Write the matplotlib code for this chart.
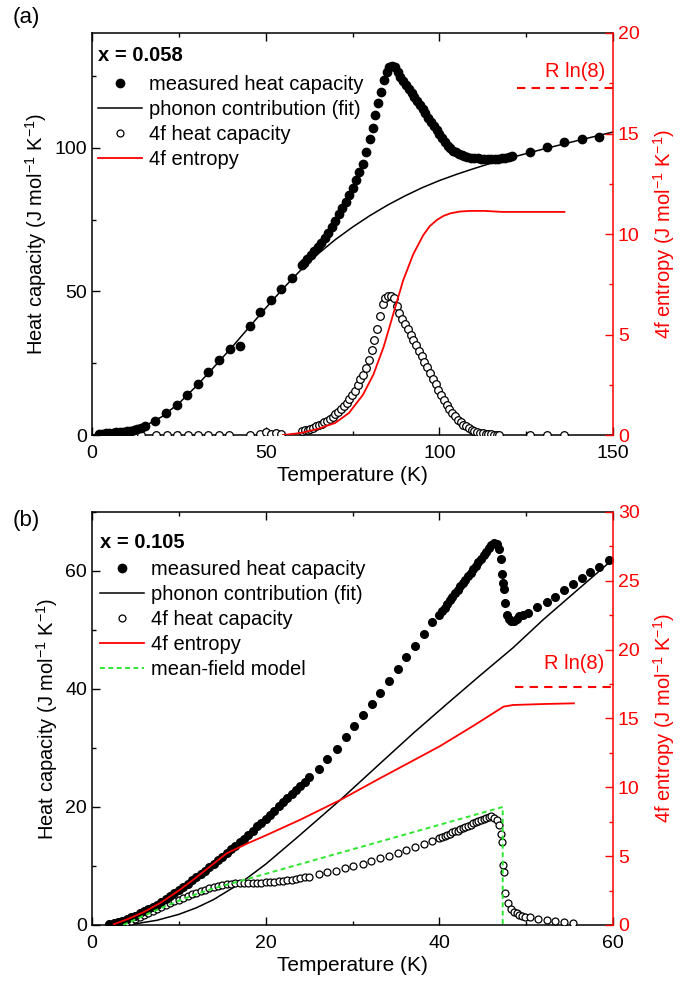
import numpy as np
import matplotlib
matplotlib.use("Agg")
import matplotlib.pyplot as plt
from matplotlib.ticker import MultipleLocator
from matplotlib.lines import Line2D

plt.rcParams['font.family'] = ['Liberation Sans', 'DejaVu Sans']
plt.rcParams['mathtext.fontset'] = 'custom'
plt.rcParams['mathtext.rm'] = 'Liberation Sans'
plt.rcParams['font.size'] = 14

R_LN8 = 8.314 * np.log(8)

# ---------------- panel (a): x = 0.058 ----------------
a_meas_T = [2, 3, 4, 5, 6, 7, 8, 9, 10, 11, 12, 13, 14, 15.3,
            18.2, 21.4, 24.4, 27.4, 30.5, 33.5, 36.6, 39.6, 42.5, 45.6, 48.5, 51.5, 54.5, 57.5, 60.5,
            61.0, 62.0, 63.0, 64.0, 65.0, 66.0, 67.0, 68.0, 69.0, 70.0, 71.0, 72.0, 73.0, 74.0,
            75.0, 76.0, 77.0, 78.0, 79.0, 80.0, 80.8, 81.6, 82.4, 83.2, 84.0, 84.8, 85.6, 86.4,
            87.2, 88.0, 88.8, 89.6, 90.4, 91.2, 92.0, 92.8, 93.6, 94.4, 95.2, 96.0, 96.8, 97.6,
            98.4, 99.2, 100.0, 100.8, 101.6, 102.4, 103.2, 104.0, 104.8, 105.6, 106.4, 107.2,
            108.0, 109.0, 110.0, 111.0, 112.0, 113.0, 114.0, 115.0, 116.0, 117.0, 118.0, 119.0,
            120.0, 121.0, 126.0, 131.0, 136.0, 141.0, 146.0]
a_meas_C = [0.4, 0.5, 0.6, 0.7, 0.8, 0.9, 1.0, 1.1, 1.3, 1.5, 1.8, 2.1, 2.5, 3.0,
            5.0, 7.6, 10.5, 14.0, 17.8, 21.8, 26.0, 30.1, 30.9, 38.0, 43.0, 47.0, 50.7, 54.8, 59.3,
            60.0, 61.3, 62.6, 64.0, 65.4, 67.0, 68.7, 70.5, 72.5, 74.7, 76.8, 79.0, 81.3, 83.6,
            86.0, 88.8, 91.5, 94.5, 98.5, 103.0, 107.0, 111.5, 115.5, 119.5, 123.5, 126.5, 128.2, 128.6,
            128.0, 126.5, 124.8, 123.3, 122.0, 120.6, 119.0, 117.6, 116.3, 114.8, 113.4, 112.0, 110.5, 109.0,
            107.6, 106.3, 104.8, 103.3, 102.0, 100.8, 99.8, 99.0, 98.4, 97.9, 97.5, 97.1,
            96.8, 96.6, 96.4, 96.3, 96.2, 96.1, 96.1, 96.1, 96.2, 96.2, 96.3, 96.5,
            96.8, 97.2, 98.5, 100.2, 102.0, 103.0, 103.8]

a_phon_T = [0, 5, 10, 15, 20, 25, 30, 35, 40, 45, 50, 55, 60, 65, 70, 75, 80, 85, 90, 95,
            100, 105, 110, 115, 120, 130, 140, 150]
a_phon_C = [0, 0.2, 1.0, 3.0, 6.3, 11.0, 17.0, 23.5, 30.2, 37.2, 44.2, 51.0, 57.3, 63.0, 68.0,
            72.4, 76.4, 80.0, 83.2, 86.1, 88.6, 90.8, 92.8, 94.7, 96.4, 99.6, 102.6, 105.5]

a_4f_T = [2, 3, 4, 5, 6, 7, 8, 9, 10, 11, 12, 13, 14,
          18.5, 21.5, 24.5, 27.5, 30.5, 33.5, 36.5, 39.5, 45.5, 48.5, 50.0, 51.5, 53.0, 54.5,
          60.5, 61.3, 62.1, 62.9, 63.7, 64.5, 65.3, 66.1, 66.9, 67.7, 68.5, 69.3, 70.1, 70.9,
          71.7, 72.5, 73.3, 74.1, 74.9, 75.7, 76.5, 77.3, 78.1, 78.9, 79.7, 80.5, 81.3, 82.1,
          82.9, 83.7, 84.5, 85.3, 86.1, 86.9, 87.7, 88.5, 89.3, 90.1, 90.9, 91.7, 92.5, 93.3,
          94.1, 94.9, 95.7, 96.5, 97.3, 98.1, 98.9, 99.7, 100.5, 101.3, 102.1, 102.9, 103.7,
          104.5, 105.3, 106.1, 106.9, 107.7, 108.5, 109.3, 110.1, 110.9, 111.7, 112.5, 113.3,
          114.1, 114.9, 115.7, 116.5, 117.3, 126.0, 131.0, 136.0]
a_4f_C = [0.1, 0.1, 0.1, 0.1, 0.1, 0.1, 0.1, 0.1, 0.1, 0.1, 0.1, 0.1, 0.1,
          0.1, 0.1, 0.1, 0.1, 0.1, 0.1, 0.1, 0.1, 0.1, 0.5, 0.9, 0.4, 0.6, 0.3,
          1.3, 1.6, 1.9, 2.2, 2.6, 3.0, 3.4, 3.9, 4.4, 5.0, 5.7, 6.4, 7.2, 8.1,
          9.0, 10.0, 11.3, 12.6, 14.0, 15.5, 17.5, 19.5, 21.0, 23.5, 26.0, 29.5, 33.0, 37.0,
          41.5, 45.5, 47.7, 48.3, 48.4, 47.6, 45.0, 42.6, 40.5, 38.7, 36.8, 34.9, 33.1, 31.3,
          29.4, 27.5, 25.6, 23.6, 21.6, 19.6, 17.6, 15.8, 14.0, 12.2, 10.6, 9.1, 7.8,
          6.6, 5.4, 4.4, 3.6, 3.0, 2.4, 1.9, 1.5, 1.1, 0.8, 0.6, 0.4,
          0.3, 0.2, 0.1, 0.0, 0.0, 0.1, 0.1, 0.1]

a_S_T = [55, 60, 65, 70, 74, 78, 81, 84, 86.7, 89.6, 92.5, 95.4, 97.3, 99.3, 101.2, 103.2,
         106, 109, 113, 118, 125, 136]
a_S = [0, 0.1, 0.3, 0.6, 1.1, 2.0, 3.0, 4.4, 6.0, 7.7, 9.0, 9.95, 10.4, 10.7, 10.9, 11.03,
       11.12, 11.15, 11.15, 11.1, 11.1, 11.1]

# ---------------- panel (b): x = 0.105 ----------------
b_meas_T = [2.0, 2.5, 3.0, 3.5, 4.0, 4.5, 5.0, 5.5, 6.0, 6.5, 7.0, 7.5, 8.0, 8.5, 9.0, 9.5,
            10.0, 10.5, 11.0, 11.5, 12.0, 12.5, 13.0, 13.5, 14.0, 14.5, 15.0, 15.5, 16.0, 16.5,
            17.0, 17.5, 18.0, 18.5, 19.0, 19.5, 20.0, 20.5, 21.0, 21.5, 22.0, 22.5, 23.0, 23.5,
            24.0, 24.5, 25.0,
            26.1, 27.1, 28.2, 29.2, 30.2, 31.2, 32.2, 33.2, 34.2, 35.2, 36.2, 37.2, 38.2, 39.2,
            40.0, 40.3, 40.6, 40.9, 41.2, 41.5, 41.8, 42.1, 42.4, 42.7, 43.0, 43.3, 43.6, 43.9,
            44.2, 44.5, 44.8, 45.1, 45.4, 45.7, 46.0, 46.3, 46.6, 46.9, 47.1, 47.25, 47.3, 47.4,
            47.6, 47.8, 48.0, 48.3, 48.6, 48.9, 49.2, 49.6, 50.2,
            51.3, 52.4, 53.3, 54.3, 55.4, 56.4, 57.4, 58.4, 59.5]
b_meas_C = [0.2, 0.35, 0.5, 0.75, 1.0, 1.3, 1.6, 1.95, 2.3, 2.65, 3.0, 3.45, 3.9, 4.4, 4.9, 5.4,
            5.9, 6.45, 7.0, 7.55, 8.1, 8.65, 9.2, 9.8, 10.4, 11.0, 11.6, 12.2, 12.8, 13.4,
            14.0, 14.65, 15.3, 16.0, 16.7, 17.35, 18.0, 18.7, 19.4, 20.1, 20.8, 21.5, 22.2, 22.9,
            23.6, 24.3, 25.0,
            26.4, 28.1, 29.9, 31.8, 33.7, 35.6, 37.5, 39.4, 41.4, 43.4, 45.5, 47.3, 49.3, 51.3,
            52.6, 53.2, 53.8, 54.4, 55.0, 55.6, 56.2, 56.8, 57.4, 57.9, 58.5, 59.1, 59.7, 60.3,
            60.9, 61.5, 62.1, 62.7, 63.3, 63.9, 64.4, 64.7, 64.6, 63.8, 62.0, 59.5, 58.0, 57.0,
            54.5, 52.5, 51.8, 51.5, 51.6, 51.9, 52.3, 52.6, 52.9,
            53.9, 54.8, 55.6, 56.8, 57.8, 58.8, 59.8, 60.7, 61.8]

b_phon_T = [3, 5, 7.5, 10, 12, 14, 17, 20, 23.6, 28.6, 33.2, 37, 40.9, 44.7, 48.5, 52, 56, 60]
b_phon_C = [0, 0.2, 0.8, 1.8, 2.9, 4.3, 7.0, 10.3, 14.8, 21.2, 27.4, 32.5, 37.5, 42.3, 47.0,
            51.8, 56.9, 62.0]

b_4f_T = [2.0, 2.5, 3.0, 3.5, 4.0, 4.5, 5.0, 5.5, 6.0, 6.5, 7.0, 7.5, 8.0, 8.5, 9.0, 9.5,
          10.0, 10.5, 11.0, 11.5, 12.0, 12.5, 13.0, 13.5, 14.0, 14.5, 15.0, 15.5, 16.0, 16.5,
          17.0, 17.5, 18.0, 18.5, 19.0, 19.5, 20.0, 20.5, 21.0, 21.5, 22.0, 22.5, 23.0, 23.5,
          24.0, 24.5, 25.0,
          26.1, 27.1, 28.1, 29.1, 30.1, 31.2, 32.1, 33.2, 34.2, 35.2, 36.2, 37.2, 38.2, 39.2,
          40.0, 40.3, 40.6, 40.9, 41.2, 41.5, 41.8, 42.1, 42.4, 42.7, 43.0, 43.3, 43.6, 43.9,
          44.2, 44.5, 44.8, 45.1, 45.4, 45.7, 46.0, 46.3, 46.6, 46.9, 47.1, 47.2, 47.3, 47.4,
          47.6, 47.9, 48.3, 48.6, 48.9, 49.2, 49.5, 49.9, 50.4, 51.4, 52.4, 53.3, 54.4, 55.4]
b_4f_C = [0.05, 0.1, 0.2, 0.3, 0.5, 0.7, 1.0, 1.3, 1.7, 2.0, 2.4, 2.7, 3.1, 3.4, 3.7, 4.0,
          4.3, 4.6, 4.9, 5.2, 5.5, 5.75, 6.0, 6.2, 6.4, 6.6, 6.75, 6.9, 7.0, 7.05,
          7.1, 7.1, 7.1, 7.1, 7.1, 7.15, 7.2, 7.25, 7.3, 7.4, 7.5, 7.6, 7.7, 7.8,
          7.9, 8.05, 8.2,
          8.6, 8.9, 9.2, 9.6, 10.0, 10.4, 10.9, 11.3, 11.7, 12.2, 12.7, 13.2, 13.7, 14.3,
          14.7, 14.9, 15.1, 15.3, 15.5, 15.7, 15.9, 16.0, 16.2, 16.4, 16.6, 16.8, 17.0, 17.2,
          17.4, 17.6, 17.8, 18.0, 18.2, 18.35, 18.4, 18.2, 17.8, 17.0, 15.5, 14.1, 10.2, 9.0,
          5.4, 3.7, 2.7, 2.2, 2.0, 1.7, 1.6, 1.4, 1.3, 1.0, 0.85, 0.7, 0.45, 0.3]

b_S_T = [2.5, 4, 6, 8, 10, 12, 14, 15.5, 18, 20, 24, 28.6, 33, 37, 40.1, 44, 47.4, 48.5, 52, 55.5]
b_S = [0.05, 0.4, 0.95, 1.65, 2.5, 3.45, 4.45, 5.2, 5.95, 6.5, 7.65, 9.08, 10.6, 11.95, 13.0,
       14.5, 15.86, 15.98, 16.05, 16.1]

b_mf_T = [3.6, 6, 8, 10, 12, 14, 16.7, 47.3, 47.3]
b_mf_C = [0, 1.6, 2.9, 4.1, 5.2, 6.2, 7.3, 20.0, 0]

GREEN = '#2ee82e'
LEG_FS = 14.5

fig = plt.figure(figsize=(6.85, 9.88), dpi=100)
ax_a = fig.add_axes([0.1343, 0.5597, 0.7606, 0.4069])
ax_b = fig.add_axes([0.1343, 0.0638, 0.7606, 0.4180])


def style(ax, axr, xmax, xmaj, xmin, ymax, ymaj, ymin, smax, smaj, smin):
    ax.set_xlim(0, xmax)
    ax.set_ylim(0, ymax)
    axr.set_ylim(0, smax)
    ax.xaxis.set_major_locator(MultipleLocator(xmaj))
    ax.xaxis.set_minor_locator(MultipleLocator(xmin))
    ax.yaxis.set_major_locator(MultipleLocator(ymaj))
    ax.yaxis.set_minor_locator(MultipleLocator(ymin))
    axr.yaxis.set_major_locator(MultipleLocator(smaj))
    axr.yaxis.set_minor_locator(MultipleLocator(smin))
    ax.tick_params(which='both', direction='in', top=True, right=False, labelsize=14, width=1)
    ax.tick_params(which='major', length=6)
    ax.tick_params(which='minor', length=3)
    ax.tick_params(axis='x', pad=7)
    axr.tick_params(which='both', direction='in', colors='red', labelsize=14, width=1)
    axr.tick_params(which='major', length=6)
    axr.tick_params(which='minor', length=3)
    ax.spines['right'].set_visible(False)
    axr.spines['right'].set_color('red')
    for s in ['left', 'top', 'bottom']:
        axr.spines[s].set_visible(False)
    for s in ax.spines.values():
        s.set_linewidth(1.1)
    axr.spines['right'].set_linewidth(1.1)
    ax.set_xlabel('Temperature (K)', fontsize=15, labelpad=3)
    ax.set_ylabel(r'Heat capacity (J mol$^{\mathregular{-1}}$ K$^{\mathregular{-1}}$)', fontsize=14.5)
    axr.set_ylabel(r'4f entropy (J mol$^{\mathregular{-1}}$ K$^{\mathregular{-1}}$)', fontsize=14.5,
                   color='red', rotation=90, labelpad=8)


# panel (a)
ax_aR = ax_a.twinx()
style(ax_a, ax_aR, 150, 50, 25, 140, 50, 25, 20, 5, 2.5)
ax_a.plot(a_phon_T, a_phon_C, color='black', lw=1.1, zorder=2)
ax_a.plot(a_4f_T, a_4f_C, 'o', mfc='white', mec='black', ms=5.5, mew=0.9, zorder=3)
ax_a.plot(a_meas_T, a_meas_C, 'o', color='black', ms=6, zorder=4)
ax_aR.plot(a_S_T, a_S, color='red', lw=1.3)
ax_aR.plot([122.5, 150], [R_LN8, R_LN8], color='red', lw=1.5, ls=(0, (4, 3)))
ax_aR.text(139, 18.1, 'R ln(8)', color='red', fontsize=LEG_FS, ha='center', va='center')
ax_a.text(0.0115, 0.945, 'x = 0.058', transform=ax_a.transAxes, fontsize=LEG_FS,
          fontweight='bold', ha='left', va='center')
h_a = [Line2D([], [], ls='none', marker='o', color='black', ms=6),
       Line2D([], [], color='black', lw=1.1),
       Line2D([], [], ls='none', marker='o', mfc='white', mec='black', ms=5, mew=0.9),
       Line2D([], [], color='red', lw=1.3)]
ax_a.legend(h_a, ['measured heat capacity', 'phonon contribution (fit)', '4f heat capacity',
                  '4f entropy'],
            loc='upper left', bbox_to_anchor=(0.0115, 0.896), frameon=False, fontsize=LEG_FS,
            borderpad=0, borderaxespad=0, handlelength=2.2, handletextpad=0.35,
            labelspacing=0.3)
fig.text(0.038, 0.982, '(a)', fontsize=16, ha='center', va='center')

# panel (b)
ax_bR = ax_b.twinx()
style(ax_b, ax_bR, 60, 20, 10, 70, 20, 10, 30, 5, 2.5)
ax_b.plot(b_phon_T, b_phon_C, color='black', lw=1.1, zorder=2)
ax_b.plot(b_4f_T, b_4f_C, 'o', mfc='white', mec='black', ms=5, mew=0.9, zorder=3)
ax_b.plot(b_meas_T, b_meas_C, 'o', color='black', ms=5.5, zorder=4)
ax_b.plot(b_mf_T, b_mf_C, color=GREEN, lw=1.4, ls=(0, (2.5, 1.8)), zorder=5)
ax_bR.plot(b_S_T, b_S, color='red', lw=1.3)
ax_bR.plot([48.7, 60], [R_LN8, R_LN8], color='red', lw=1.5, ls=(0, (4, 3)))
ax_bR.text(55.5, 19.0, 'R ln(8)', color='red', fontsize=LEG_FS, ha='center', va='center')
ax_b.text(0.0154, 0.925, 'x = 0.105', transform=ax_b.transAxes, fontsize=LEG_FS,
          fontweight='bold', ha='left', va='center')
h_b = h_a + [Line2D([], [], color=GREEN, lw=1.4, ls=(0, (2.5, 1.8)))]
ax_b.legend(h_b, ['measured heat capacity', 'phonon contribution (fit)', '4f heat capacity',
                  '4f entropy', 'mean-field model'],
            loc='upper left', bbox_to_anchor=(0.0154, 0.884), frameon=False, fontsize=LEG_FS,
            borderpad=0, borderaxespad=0, handlelength=2.2, handletextpad=0.35,
            labelspacing=0.3)
fig.text(0.038, 0.473, '(b)', fontsize=16, ha='center', va='center')

fig.savefig('out.png', dpi=100)
